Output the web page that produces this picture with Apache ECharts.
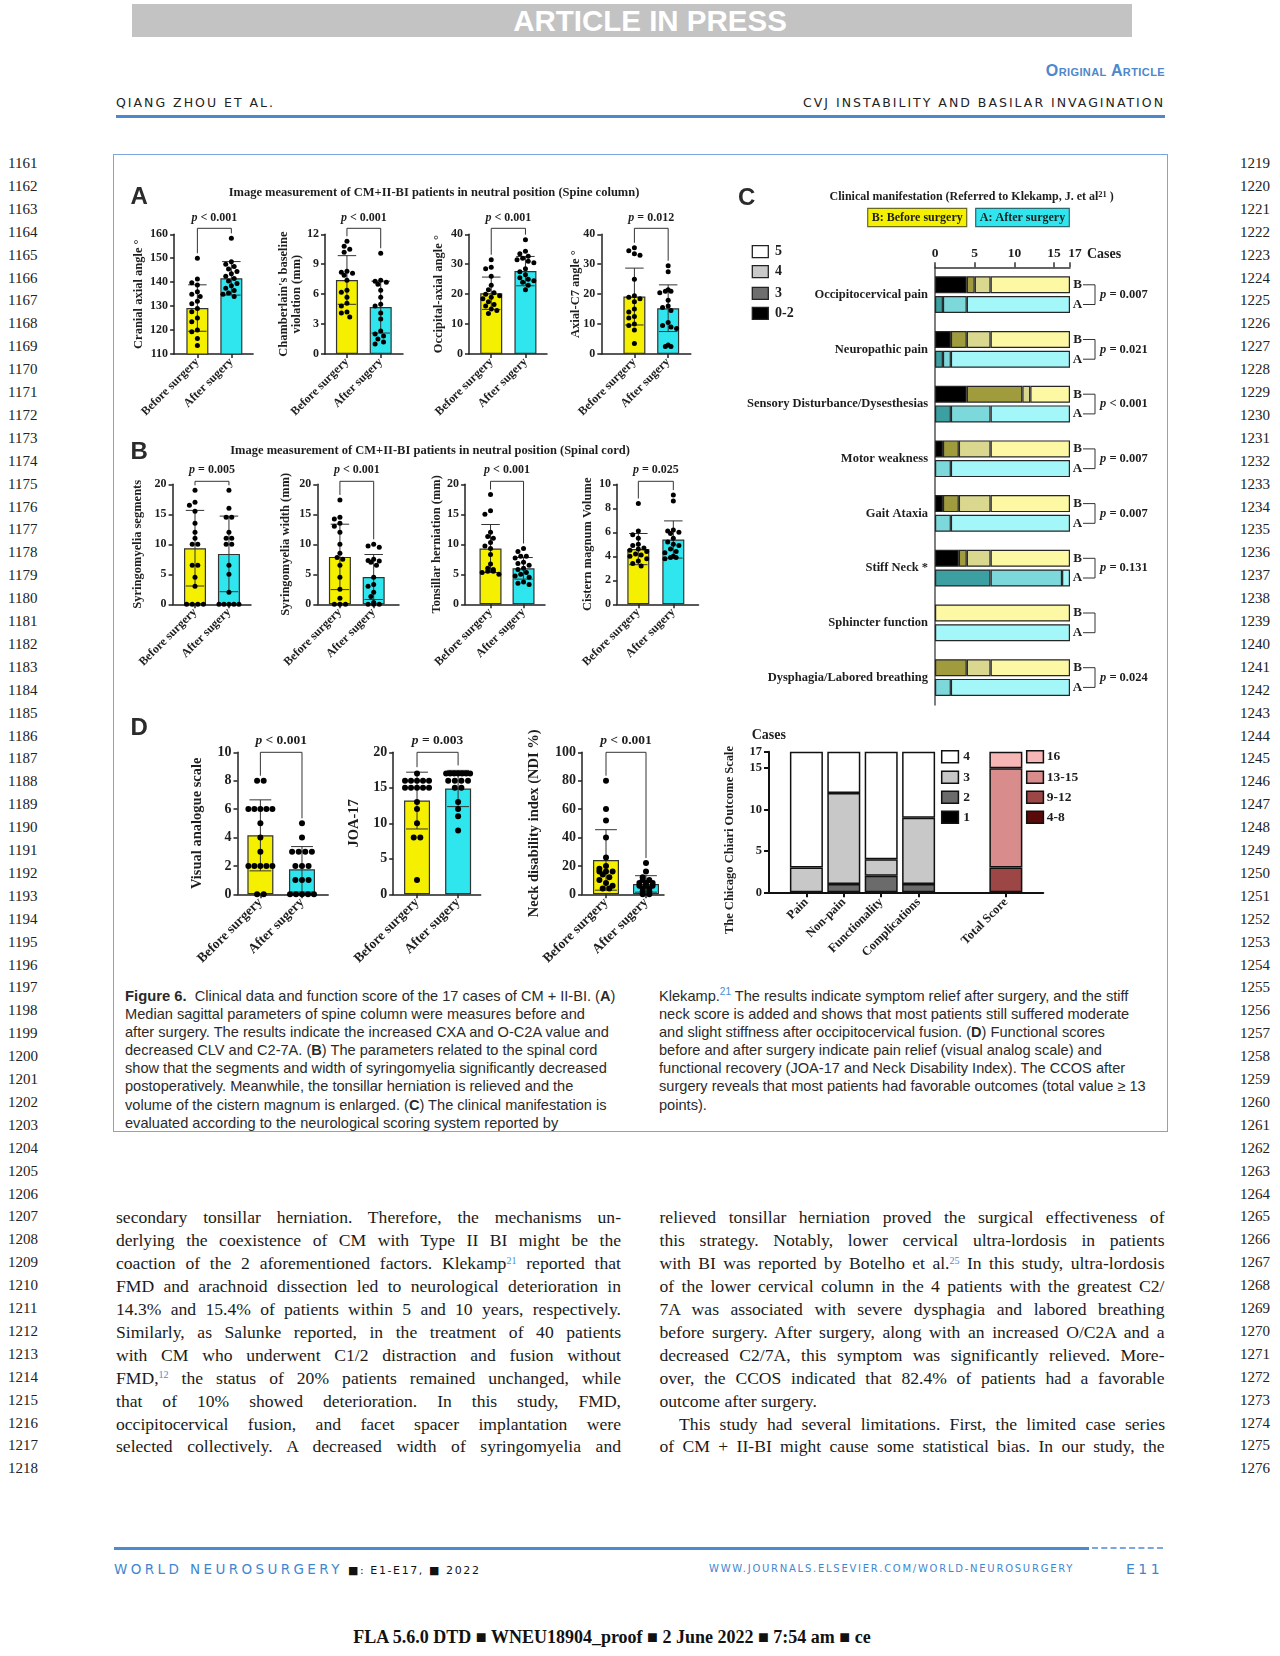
<!DOCTYPE html>
<html><head><meta charset="utf-8"><title>Figure 6 - CM + II-BI</title>
<script src="https://cdn.jsdelivr.net/npm/echarts@6/dist/echarts.min.js"></script>
<style>
html,body{margin:0;padding:0;background:#fff;}
body{position:relative;width:1280px;height:1656px;overflow:hidden;color:#1b1b1b;}
.a{position:absolute;white-space:nowrap;}
#pressbar{left:132px;top:4px;width:1000px;height:33px;background:#c3c3c3;color:#fff;font:bold 29.5px "Liberation Sans",Arial,sans-serif;line-height:33px;text-align:center;text-indent:36px;}
.hdr{font-family:"DejaVu Sans",sans-serif;font-size:12.5px;letter-spacing:2px;color:#222;line-height:16px;}
.ln{font-family:"Liberation Serif",serif;font-size:15px;line-height:20px;color:#222;}
.cap{font-family:"Liberation Sans",Arial,sans-serif;font-size:14.6px;line-height:18.2px;color:#2a2a2a;}
.body{font-family:"Liberation Serif",serif;font-size:17.6px;line-height:22.9px;color:#1a1a1a;width:505px;}
.just{text-align:justify;text-align-last:justify;}
sup{font-size:10px;vertical-align:0;position:relative;top:-0.55em;color:#3d8fd8;line-height:0;}
.cap sup{font-size:10px;}
</style></head>
<body>
<div id="pressbar" class="a">ARTICLE IN PRESS</div>
<div class="a" style="right:115px;top:62px;line-height:20px;font:bold 16px 'Liberation Sans',Arial,sans-serif;font-variant:small-caps;color:#4d87cc;letter-spacing:0.4px;">Original Article</div>
<div class="a hdr" style="left:116px;top:95px;">QIANG ZHOU ET AL.</div>
<div class="a hdr" style="right:115px;top:95px;">CVJ INSTABILITY AND BASILAR INVAGINATION</div>
<div class="a" style="left:116px;top:115px;width:1049px;height:3px;background:#4d87cc;"></div>

<div class="a" style="left:113px;top:154px;width:1053px;height:976px;border:1.5px solid #7aa6dc;"></div>
<div id="fig" class="a" style="left:0;top:0;width:1280px;height:980px;z-index:2;"></div>

<div class="a" style="left:114px;top:1547px;width:975px;height:2.5px;background:#4d8bd0;"></div>
<div class="a" style="left:1092px;top:1547px;width:71px;height:0;border-top:2.5px dashed #7aa8dc;"></div>
<div class="a" style="left:114px;top:1561px;line-height:16px;font-family:'DejaVu Sans',sans-serif;font-size:13.5px;letter-spacing:3.4px;color:#3f86cf;">WORLD NEUROSURGERY<span style="color:#111;font-size:11px;letter-spacing:1.6px;"> ■: E1-E17, ■ 2022</span></div>
<div class="a" style="left:709px;top:1562px;line-height:14px;font-family:'DejaVu Sans',sans-serif;font-size:10px;letter-spacing:1.75px;color:#3f86cf;">WWW.JOURNALS.ELSEVIER.COM/WORLD-NEUROSURGERY</div>
<div class="a" style="left:1126px;top:1561px;line-height:16px;font-family:'DejaVu Sans',sans-serif;font-size:14px;letter-spacing:3.5px;color:#3f86cf;">E11</div>
<div class="a" style="left:330px;width:564px;top:1627px;line-height:22px;text-align:center;font:bold 18px 'Liberation Serif',serif;color:#111;">FLA 5.6.0 DTD ■ WNEU18904_proof ■ 2 June 2022 ■ 7:54 am ■ ce</div>

<script>
// ---------------- DATA ----------------
const groupLabels = ['Before surgery', 'After sugery'];

// Panel A: spine column
const cxaBefore = [150, 141.3, 139.8, 138.8, 136, 135, 134, 132, 131, 129, 127.7, 125, 123.5, 120, 119.3, 116.5, 113.5];
const cxaAfter = [158.3, 148.5, 147.5, 146.5, 145.5, 144.5, 143.5, 142.5, 141.5, 140.5, 139.5, 138.5, 137.5, 136.5, 135.5, 135, 134];
const cxaMean = [129.2, 141.6], cxaSD = [9.7, 7.0];
const cxaTicks = [110, 120, 130, 140, 150, 160];

const clvBefore = [11.3, 10.8, 10.5, 10.2, 8.3, 8.2, 8.1, 7.9, 7.4, 6.4, 6.2, 5.7, 5.1, 4.8, 4.2, 4.1, 3.7];
const clvAfter = [10.1, 7.4, 7.3, 7.2, 7.0, 6.4, 5.7, 5.0, 4.8, 4.1, 3.5, 2.3, 2.0, 1.8, 1.5, 1.2, 1.0];
const clvMean = [7.42, 4.7], clvSD = [2.44, 2.6];
const clvTicks = [0, 3, 6, 9, 12];

const oc2aBefore = [31.5, 29, 28.5, 26, 23, 21.5, 20.5, 20, 19.5, 19, 18.5, 17.5, 16.5, 16, 15, 14.5, 13.5];
const oc2aAfter = [38.2, 34.3, 33.5, 32.7, 32, 31.5, 31, 30.5, 28.5, 27.5, 26.5, 25.5, 25, 24.5, 24, 23, 21.5];
const oc2aMean = [20.3, 27.7], oc2aSD = [5.4, 4.9];
const oc2aTicks = [0, 10, 20, 30, 40];

const c27Before = [35.5, 34.5, 33.5, 33, 25, 19.5, 19, 18.5, 17.5, 15, 14, 12.5, 12, 10, 9.5, 8, 3.5];
const c27After = [29.5, 27.5, 21.5, 21, 21, 20.5, 18, 16, 15.5, 14.5, 10.5, 9.5, 9, 8.5, 3, 2.5, 2.5];
const c27Mean = [19.2, 15.3], c27SD = [9.5, 7.8];
const c27Ticks = [0, 10, 20, 30, 40];

const pValuesA = ['< 0.001', '< 0.001', '< 0.001', '= 0.012'];

// Panel B: spinal cord
const segBefore = [19, 17, 16.5, 15.5, 13.5, 12, 11, 10, 10, 6.5, 6.5, 4.5, 3, 0, 0, 0, 0];
const segAfter = [19, 16, 14.5, 14.5, 12, 11, 11, 10, 10, 6.5, 5, 2, 0, 0, 0, 0, 0];
const segMean = [9.35, 8.4], segSD = [6.3, 6.3];
const segTicks = [0, 5, 10, 15, 20];

const widthBefore = [17.4, 14.5, 14.2, 13.5, 13, 12, 10, 8.5, 7.8, 7.5, 6.5, 4.5, 2.5, 1, 0, 0, 0];
const widthAfter = [10, 9.7, 9.5, 7.5, 7.3, 7.2, 7, 6.5, 4.5, 3.3, 3, 2, 1.3, 0.3, 0, 0, 0];
const widthMean = [7.9, 4.55], widthSD = [5.45, 3.75];
const widthTicks = [0, 5, 10, 15, 20];

const tonsilBefore = [18.3, 15.6, 15, 12, 11.3, 11, 10.3, 9.7, 9.3, 8.3, 6.7, 6, 5.8, 5.5, 5.5, 5.3, 5];
const tonsilAfter = [9.3, 8.8, 8, 8, 7.7, 7, 6.8, 6.5, 6, 5.8, 5.3, 5, 4.7, 4.5, 3.7, 3.5, 3.3];
const tonsilMean = [9.3, 6.0], tonsilSD = [4.0, 1.8];
const tonsilTicks = [0, 5, 10, 15, 20];

const cisternBefore = [8.4, 6.1, 5.8, 5.5, 5, 4.9, 4.7, 4.6, 4.5, 4.4, 4.2, 4.1, 4, 3.8, 3.6, 3.4, 3.2];
const cisternAfter = [9.1, 8.6, 6.2, 6.1, 6, 5.9, 5.5, 5.2, 5, 4.9, 4.6, 4.4, 4.3, 4, 3.9, 3.9, 3.8];
const cisternMean = [4.6, 5.4], cisternSD = [1.3, 1.55];
const cisternTicks = [0, 2, 4, 6, 8, 10];

const pValuesB = ['= 0.005', '< 0.001', '< 0.001', '= 0.025'];

// Panel C: clinical manifestation (cases per score)
const symptoms = ['Occipitocervical pain', 'Neuropathic pain', 'Sensory Disturbance/Dysesthesias', 'Motor weakness', 'Gait Ataxia', 'Stiff Neck *', 'Sphincter function', 'Dysphagia/Labored breathing'];
const beforeScore02 = [4, 2, 4, 1, 1, 3, 0, 0];
const beforeScore3 = [1, 2, 7, 2, 2, 1, 0, 4];
const beforeScore4 = [2, 3, 1, 4, 4, 3, 0, 3];
const beforeScore5 = [10, 10, 5, 10, 10, 10, 17, 10];
const afterScore02 = [0, 0, 0, 0, 0, 0, 0, 0];
const afterScore3 = [1, 1, 2, 0, 0, 7, 0, 0];
const afterScore4 = [3, 1, 5, 2, 2, 9, 0, 2];
const afterScore5 = [13, 15, 10, 15, 15, 1, 17, 15];
const symptomP = ['= 0.007', '= 0.021', '< 0.001', '= 0.007', '= 0.007', '= 0.131', '', '= 0.024'];
const scoreLevels = ['0-2', '3', '4', '5'];
const caseTicks = [0, 5, 10, 15, 17];

// Panel D: functional scores
const vasBefore = [8, 8, 6, 6, 6, 6, 6, 5, 4, 3, 2, 2, 2, 2, 2, 0, 0];
const vasAfter = [5, 4, 3, 3, 3, 3, 2, 2, 2, 1, 1, 1, 0, 0, 0, 0, 0];
const vasMean = [4.15, 1.76], vasSD = [2.5, 1.6];
const vasTicks = [0, 2, 4, 6, 8, 10];

const joaBefore = [17, 16, 16, 16, 16, 16, 15, 15, 15, 15, 15, 13, 12, 10, 8, 8, 2];
const joaAfter = [17, 17, 17, 17, 17, 17, 17, 16, 16, 16, 16, 15, 15, 13, 12, 11, 9];
const joaMean = [13.2, 14.9], joaSD = [4.0, 2.55];
const joaTicks = [0, 5, 10, 15, 20];

const ndiBefore = [80, 60, 52, 40, 26, 20, 18, 16, 16, 16, 14, 12, 10, 8, 6, 4, 4];
const ndiAfter = [22, 16, 12, 10, 10, 8, 8, 8, 6, 6, 6, 4, 4, 2, 2, 0, 0];
const ndiMean = [24.2, 7.3], ndiSD = [21.3, 5.8];
const ndiTicks = [0, 20, 40, 60, 80, 100];

const pValuesD = ['< 0.001', '= 0.003', '< 0.001'];

// CCOS
const ccosCats = ['Pain', 'Non-pain', 'Functionality', 'Complications'];
const ccosScore1 = [0, 0, 0, 0];
const ccosScore2 = [0, 1, 2, 1];
const ccosScore3 = [3, 11, 2, 8];
const ccosScore4 = [14, 5, 13, 8];
const ccosLevels = ['1', '2', '3', '4'];
const totalLabel = 'Total Score';
const totalLevels = ['4-8', '9-12', '13-15', '16'];
const totalCounts = [0, 3, 12, 2];
const ccosTicks = [0, 5, 10, 15, 17];

// ---------------- CHART ----------------
const SERIF = '"Liberation Serif","Times New Roman",serif';
const SANS = '"Liberation Sans",Arial,sans-serif';
const INK = '#1e1e1e';
const YELLOW = '#f5f000', CYAN = '#2fe6ef';
const grid = [], xAxis = [], yAxis = [], series = [], graphic = [];
const fnt = (s, w) => `${w || 'bold'} ${s}px ${SERIF}`;
function gText(x, y, str, size, align, extra) {
  graphic.push(Object.assign({type: 'text', x: x, y: y, silent: true, z: 10,
    style: {text: str, font: fnt(size), fill: INK, align: align || 'left', textAlign: align || 'left', verticalAlign: 'middle', textVerticalAlign: 'middle'}}, extra || {}));
}
function gRect(x, y, w, h, fill, stroke, lw) {
  graphic.push({type: 'rect', silent: true, z: 10, shape: {x: x, y: y, width: w, height: h}, style: {fill: fill, stroke: stroke || '#222', lineWidth: lw || 1.3}});
}
function pRich(size, p) {
  return {text: '{i|p}{n| ' + p + '}', rich: {
    i: {fontFamily: SERIF, fontWeight: 'bold', fontStyle: 'italic', fontSize: size, fill: INK},
    n: {fontFamily: SERIF, fontWeight: 'bold', fontSize: size, fill: INK}}};
}

function swarm(values, ppu, size, half) {
  const off = values.map(() => 0);
  const byVal = new Map();
  values.forEach((v, i) => { if (!byVal.has(v)) byVal.set(v, []); byVal.get(v).push(i); });
  const keys = [...byVal.keys()].sort((a, b) => b - a);
  const placed = [];
  const step = size + 0.6;
  keys.forEach(v => {
    const idx = byVal.get(v), y = v * ppu;
    if (idx.length > 1) {
      const sp = Math.min(step, 2 * half / (idx.length - 1));
      idx.forEach((i, k) => { off[i] = (k - (idx.length - 1) / 2) * sp; placed.push([off[i], y]); });
    } else {
      const cands = [0];
      for (let k = 1; k * step / 2 <= half; k++) { cands.push(-k * step / 2, k * step / 2); }
      let best = 0, bestD = -1;
      for (const c of cands) {
        let d = Infinity;
        placed.forEach(p => { d = Math.min(d, Math.hypot(p[0] - c, p[1] - y)); });
        if (d >= size) { best = c; bestD = d; break; }
        if (d > bestD) { bestD = d; best = c; }
      }
      off[idx[0]] = best; placed.push([best, y]);
    }
  });
  return off;
}

const axisLineStyle = {color: '#222', width: 1.5};
function addBarPanel(c) {
  const st = c.st, gi = grid.length;
  const yMin = c.ticks[0], yMax = c.ticks[c.ticks.length - 1], step = c.ticks[1] - c.ticks[0];
  grid.push({left: c.left, top: c.top, width: c.right - c.left, height: c.bottom - c.top});
  xAxis.push({gridIndex: gi, type: 'value', min: c.xMin, max: c.xMax, splitLine: {show: false},
    axisLine: {show: true, onZero: false, lineStyle: axisLineStyle},
    axisTick: {show: true, customValues: [0, 1], length: 4, lineStyle: axisLineStyle},
    axisLabel: {customValues: [0, 1], rotate: 45, margin: 6, formatter: v => groupLabels[Math.round(v)],
      fontFamily: SERIF, fontWeight: 'bold', fontSize: st.xLabel, color: INK}});
  const ya = {gridIndex: gi, type: 'value', min: yMin, max: yMax, interval: step, splitLine: {show: false},
    axisLine: {show: true, onZero: false, lineStyle: axisLineStyle},
    axisTick: {show: true, length: 4, lineStyle: axisLineStyle},
    axisLabel: {margin: 6, fontFamily: SERIF, fontWeight: 'bold', fontSize: st.tick, color: INK},
    name: c.name, nameLocation: 'middle', nameRotate: 90, nameGap: c.nameGap,
    nameTextStyle: {fontFamily: SERIF, fontWeight: 'bold', fontSize: st.name, color: INK, lineHeight: st.name + 0.5}};
  if (c.fixedName) ya.nameMoveOverlap = false;
  yAxis.push(ya);
  series.push({type: 'bar', xAxisIndex: gi, yAxisIndex: gi, barWidth: st.bar, clip: true, silent: true, z: 2,
    itemStyle: {borderColor: '#333', borderWidth: 1.2},
    data: [{value: [0, c.mean[0]], itemStyle: {color: YELLOW}}, {value: [1, c.mean[1]], itemStyle: {color: CYAN}}]});
  const cap = st.bar * 0.42;
  series.push({type: 'custom', xAxisIndex: gi, yAxisIndex: gi, silent: true, z: 3,
    data: [[0, c.mean[0], c.sd[0]], [1, c.mean[1], c.sd[1]]],
    renderItem: (params, api) => {
      const x = api.value(0), m = api.value(1), s = api.value(2);
      const t = api.coord([x, m + s]), b = api.coord([x, m - s]);
      const ls = {stroke: '#333', lineWidth: 1};
      return {type: 'group', children: [
        {type: 'line', shape: {x1: t[0], y1: t[1], x2: b[0], y2: b[1]}, style: ls},
        {type: 'line', shape: {x1: t[0] - cap, y1: t[1], x2: t[0] + cap, y2: t[1]}, style: ls},
        {type: 'line', shape: {x1: b[0] - cap, y1: b[1], x2: b[0] + cap, y2: b[1]}, style: ls}]};
    }});
  const ppu = (c.bottom - c.top) / (yMax - yMin);
  const groups = [c.before, c.after];
  groups.forEach((vals, g) => {
    const offs = swarm(vals, ppu, st.dot, st.bar / 2 - 1);
    series.push({type: 'scatter', xAxisIndex: gi, yAxisIndex: gi, symbolSize: st.dot, silent: true, z: 4,
      itemStyle: {color: '#000', opacity: 1},
      data: vals.map((v, i) => ({value: [g, v], symbolOffset: [offs[i], 0]}))});
  });
  series.push({type: 'custom', xAxisIndex: gi, yAxisIndex: gi, silent: true, z: 5, clip: false,
    data: [[0, yMax]],
    renderItem: (params, api) => {
      const l = api.coord([0, yMax]), r = api.coord([1, yMax]);
      const top = l[1] - st.bracketGap;
      const leg = g => Math.max(top + 3, Math.min(api.coord([g, Math.max(...groups[g])])[1], api.coord([g, c.mean[g] + c.sd[g]])[1]) - 5);
      const pr = pRich(st.p, c.p);
      return {type: 'group', children: [
        {type: 'polyline', shape: {points: [[l[0], leg(0)], [l[0], top], [r[0], top], [r[0], leg(1)]]}, style: {stroke: '#333', lineWidth: 1, fill: null}},
        {type: 'text', x: (l[0] + r[0]) / 2, y: top - st.pGap, style: {text: pr.text, rich: pr.rich, align: 'center', textAlign: 'center', verticalAlign: 'middle', textVerticalAlign: 'middle', fill: INK}}]};
    }});
}

const ST_A = {tick: 12, name: 12.5, xLabel: 12, p: 12, dot: 5, bar: 22, bracketGap: 6, pGap: 10};
const ST_B = Object.assign({}, ST_A, {bracketGap: 3, pGap: 11});
const ST_D = {tick: 14, name: 14.5, xLabel: 13.5, p: 13.5, dot: 6, bar: 26, bracketGap: 0, pGap: 12};

const barPanels = [
  {st: ST_A, name: 'Cranial axial angle °', before: cxaBefore, after: cxaAfter, mean: cxaMean, sd: cxaSD, p: pValuesA[0], ticks: cxaTicks, left: 174.1, right: 253.1, top: 234.3, bottom: 354, xMin: -0.685, xMax: 1.64, nameGap: 29},
  {st: ST_A, name: "Chamberlain's baseline\nviolation (mm)", before: clvBefore, after: clvAfter, mean: clvMean, sd: clvSD, p: pValuesA[1], ticks: clvTicks, left: 325, right: 403, top: 234.3, bottom: 354, xMin: -0.65, xMax: 1.66, nameGap: 19},
  {st: ST_A, name: 'Occipital-axial angle °', before: oc2aBefore, after: oc2aAfter, mean: oc2aMean, sd: oc2aSD, p: pValuesA[2], ticks: oc2aTicks, left: 469, right: 547, top: 234.3, bottom: 354, xMin: -0.65, xMax: 1.63, nameGap: 24},
  {st: ST_A, name: 'Axial-C7 angle °', before: c27Before, after: c27After, mean: c27Mean, sd: c27SD, p: pValuesA[3], ticks: c27Ticks, left: 601.3, right: 690.8, top: 234.3, bottom: 354, xMin: -0.98, xMax: 1.67, nameGap: 19, fixedName: true},
  {st: ST_B, name: 'Syringomyelia segments', before: segBefore, after: segAfter, mean: segMean, sd: segSD, p: pValuesB[0], ticks: segTicks, left: 172.6, right: 251, top: 484.3, bottom: 604.3, xMin: -0.66, xMax: 1.65, nameGap: 28},
  {st: ST_B, name: 'Syringomyelia width (mm)', before: widthBefore, after: widthAfter, mean: widthMean, sd: widthSD, p: pValuesB[1], ticks: widthTicks, left: 317.3, right: 399, top: 484.3, bottom: 604.3, xMin: -0.67, xMax: 1.75, nameGap: 25},
  {st: ST_B, name: 'Tonsillar herniation (mm)', before: tonsilBefore, after: tonsilAfter, mean: tonsilMean, sd: tonsilSD, p: pValuesB[2], ticks: tonsilTicks, left: 465.1, right: 545, top: 484.3, bottom: 604.3, xMin: -0.77, xMax: 1.65, nameGap: 20.5},
  {st: ST_B, name: 'Cistern magnum Volume', before: cisternBefore, after: cisternAfter, mean: cisternMean, sd: cisternSD, p: pValuesB[3], ticks: cisternTicks, left: 617, right: 698.5, top: 484.3, bottom: 604.3, xMin: -0.61, xMax: 1.72, nameGap: 23},
  {st: ST_D, name: 'Visual analogue scale', before: vasBefore, after: vasAfter, mean: vasMean, sd: vasSD, p: pValuesD[0], ticks: vasTicks, left: 237.5, right: 328.2, top: 752.3, bottom: 894.3, xMin: -0.55, xMax: 1.63, nameGap: 33},
  {st: ST_D, name: 'JOA-17', before: joaBefore, after: joaAfter, mean: joaMean, sd: joaSD, p: pValuesD[1], ticks: joaTicks, left: 393.2, right: 480.7, top: 752.3, bottom: 894.3, xMin: -0.58, xMax: 1.55, nameGap: 31},
  {st: ST_D, name: 'Neck disability index (NDI %)', before: ndiBefore, after: ndiAfter, mean: ndiMean, sd: ndiSD, p: pValuesD[2], ticks: ndiTicks, left: 582, right: 664, top: 752.3, bottom: 894.3, xMin: -0.6, xMax: 1.45, nameGap: 40, fixedName: true}
];
barPanels.forEach(addBarPanel);

// Panel letters and titles
[['A', 130.6, 197.5], ['B', 130.6, 452.5], ['C', 738, 198.5], ['D', 130.6, 728.5]].forEach(l => {
  graphic.push({type: 'text', x: l[1], y: l[2], silent: true, z: 10, style: {text: l[0], font: `bold 24px ${SANS}`, fill: '#2b2b2b', align: 'left', textAlign: 'left', verticalAlign: 'middle', textVerticalAlign: 'middle'}});
});
gText(434, 193, 'Image measurement of CM+II-BI patients in neutral position (Spine column)', 12.5, 'center');
gText(430, 451, 'Image measurement of CM+II-BI patients in neutral position (Spinal cord)', 12.5, 'center');

// ---- Panel C ----
const cg = grid.length;
const lastCase = caseTicks[caseTicks.length - 1];
grid.push({left: 935, top: 267.3, width: 135, height: 437.6});
xAxis.push({gridIndex: cg, type: 'value', position: 'top', min: caseTicks[0], max: lastCase, splitLine: {show: false},
  axisLine: {show: true, onZero: false, lineStyle: {color: '#333', width: 1.5}},
  axisTick: {show: true, customValues: caseTicks, length: 5, lineStyle: {color: '#333', width: 1.5}},
  axisLabel: {customValues: caseTicks, margin: 7, fontFamily: SERIF, fontWeight: 'bold', fontSize: 13.5, color: INK,
    formatter: v => v === lastCase ? '{r|' + v + '}' : String(v),
    rich: {r: {fontFamily: SERIF, fontWeight: 'bold', fontSize: 13.5, color: INK, padding: [0, 0, 0, 10]}}},
  name: 'Cases', nameLocation: 'end', nameGap: 17,
  nameTextStyle: {fontFamily: SERIF, fontWeight: 'bold', fontSize: 14, color: INK, align: 'left', verticalAlign: 'bottom', padding: [0, 0, 6, 0]}});
yAxis.push({gridIndex: cg, type: 'category', data: symptoms, inverse: true,
  axisLine: {show: true, onZero: false, lineStyle: {color: '#555', width: 1.5}}, axisTick: {show: false},
  axisLabel: {margin: 7, fontFamily: SERIF, fontWeight: 'bold', fontSize: 12.5, color: INK}});
const bColors = ['#000000', '#a09c3e', '#dad78f', '#fdf8a3'];
const aColors = ['#0d5d60', '#3ca0a3', '#7dd8db', '#a4f7f9'];
const beforeScores = [beforeScore02, beforeScore3, beforeScore4, beforeScore5];
const afterScores = [afterScore02, afterScore3, afterScore4, afterScore5];
beforeScores.forEach((arr, k) => series.push({type: 'bar', name: 'B ' + scoreLevels[k], xAxisIndex: cg, yAxisIndex: cg, stack: 'B', barWidth: 17, barGap: '16%', silent: true,
  itemStyle: {color: bColors[k], borderColor: '#262626', borderWidth: 1.2}, data: arr.map(v => v || '-')}));
afterScores.forEach((arr, k) => series.push({type: 'bar', name: 'A ' + scoreLevels[k], xAxisIndex: cg, yAxisIndex: cg, stack: 'A', barWidth: 17, barGap: '16%', silent: true,
  itemStyle: {color: aColors[k], borderColor: '#262626', borderWidth: 1.2}, data: arr.map(v => v || '-')}));
series.push({type: 'custom', xAxisIndex: cg, yAxisIndex: cg, silent: true, clip: false, z: 5,
  data: symptoms.map(s => [lastCase, s]),
  renderItem: (params, api) => {
    const c = api.coord([api.value(0), api.value(1)]);
    const yB = c[1] - 9.85, yA = c[1] + 9.85, x0 = c[0];
    const ts = t => ({text: t, font: fnt(13), fill: INK, align: 'center', textAlign: 'center', verticalAlign: 'middle', textVerticalAlign: 'middle'});
    const ch = [
      {type: 'text', x: x0 + 7.5, y: yB, style: ts('B')},
      {type: 'text', x: x0 + 7.5, y: yA, style: ts('A')},
      {type: 'polyline', shape: {points: [[x0 + 13, yB], [x0 + 25, yB], [x0 + 25, yA], [x0 + 13, yA]]}, style: {stroke: '#333', lineWidth: 1, fill: null}}];
    const p = symptomP[params.dataIndex];
    if (p) {
      const pr = pRich(12.5, p);
      ch.push({type: 'text', x: x0 + 30, y: c[1], style: {text: pr.text, rich: pr.rich, fill: INK, align: 'left', textAlign: 'left', verticalAlign: 'middle', textVerticalAlign: 'middle'}});
    }
    return {type: 'group', children: ch};
  }});
// C title and legends
graphic.push({type: 'text', x: 971.7, y: 197.3, silent: true, z: 10, style: {
  text: '{t|Clinical manifestation (Referred to Klekamp, J. et al}{s|21}{t| )}', align: 'center', textAlign: 'center', verticalAlign: 'middle', textVerticalAlign: 'middle',
  rich: {t: {fontFamily: SERIF, fontWeight: 'bold', fontSize: 12, fill: INK}, s: {fontFamily: SERIF, fontWeight: 'bold', fontSize: 8.5, fill: INK, verticalAlign: 'top', padding: [0, 0, 6, 0]}}}});
gRect(867.7, 208.3, 99, 18.4, YELLOW, '#6a6a20', 1.2);
gRect(975.7, 208.3, 93.6, 18.4, CYAN, '#2a6a70', 1.2);
gText(917.2, 217.5, 'B: Before surgery', 12, 'center');
gText(1022.5, 217.5, 'A: After surgery', 12, 'center');
const cLegendFill = ['#000000', '#6e6e6e', '#c9c9c9', '#ffffff'];
[3, 2, 1, 0].forEach((k, r) => {
  const cy = [251.7, 271.7, 293.3, 313.3][r];
  gRect(752.3, cy - 6, 16, 12, cLegendFill[k], '#222', 1.3);
  gText(775, cy, scoreLevels[k], 14, 'left');
});

// ---- CCOS (fine slots so the Total Score column sits apart from the four items) ----
const og = grid.length;
const ccosAll = ccosCats.concat([totalLabel]);
const ccosSlots = ccosAll.map((_, i) => 3 + 3 * i + (i >= ccosCats.length ? 4 : 0));
const slotCount = 23;
const ccosAxisCats = Array.from({length: slotCount}, (_, j) => {
  const i = ccosSlots.indexOf(j);
  return i >= 0 ? ccosAll[i] : ' '.repeat(j + 1);
});
grid.push({left: 769, top: 751.7, width: 22 * 12.467, height: 140.6});
xAxis.push({gridIndex: og, type: 'category', data: ccosAxisCats, boundaryGap: false,
  axisLine: {show: true, onZero: false, lineStyle: {color: '#111', width: 2}},
  axisTick: {show: true, interval: (i, v) => v.trim() !== '', length: 5, lineStyle: {color: '#111', width: 2}},
  axisLabel: {interval: 0, rotate: 45, margin: 8, formatter: v => v.trim(),
    fontFamily: SERIF, fontWeight: 'bold', fontSize: 12.5, color: INK}});
yAxis.push({gridIndex: og, type: 'value', min: ccosTicks[0], max: ccosTicks[ccosTicks.length - 1], splitLine: {show: false},
  axisLine: {show: true, onZero: false, lineStyle: {color: '#111', width: 2}},
  axisTick: {show: true, customValues: ccosTicks, length: 5, lineStyle: {color: '#111', width: 2}},
  axisLabel: {customValues: ccosTicks, margin: 7, fontFamily: SERIF, fontWeight: 'bold', fontSize: 12.5, color: INK},
  name: 'The Chicago Chiari Outcome Scale', nameLocation: 'middle', nameRotate: 90, nameGap: 33,
  nameTextStyle: {fontFamily: SERIF, fontWeight: 'bold', fontSize: 12.5, color: INK, padding: [0, 36, 0, 0]}});
const grayFill = ['#000000', '#6b6b6b', '#c8c8c8', '#ffffff'];
const redFill = ['#5a0a0a', '#9c4646', '#d88c8c', '#f7b6b6'];
const ccosScores = [ccosScore1, ccosScore2, ccosScore3, ccosScore4];
ccosScores.forEach((arr, k) => series.push({type: 'bar', name: 'CCOS ' + ccosLevels[k], xAxisIndex: og, yAxisIndex: og, stack: 'ccos', barWidth: 33, silent: true,
  itemStyle: {color: grayFill[k], borderColor: '#111', borderWidth: 1.5},
  data: ccosAxisCats.map((_, j) => { const i = ccosSlots.indexOf(j); return i >= 0 && i < arr.length && arr[i] ? arr[i] : '-'; })}));
totalCounts.forEach((v, k) => series.push({type: 'bar', name: 'Total ' + totalLevels[k], xAxisIndex: og, yAxisIndex: og, stack: 'ccos', barWidth: 33, silent: true,
  itemStyle: {color: redFill[k], borderColor: '#111', borderWidth: 1.5},
  data: ccosAxisCats.map((_, j) => (ccosSlots.indexOf(j) === ccosCats.length && v) ? v : '-')}));
gText(751.7, 735, 'Cases', 14, 'left');
[3, 2, 1, 0].forEach((k, r) => {
  const cy = [756.7, 777.3, 797.3, 817.3][r];
  gRect(941.7, cy - 6, 16.7, 12, grayFill[k], '#111', 1.5);
  gText(963.3, cy, ccosLevels[k], 13.5, 'left');
  gRect(1026.7, cy - 6, 16.7, 12, redFill[k], '#111', 1.5);
  gText(1046.7, cy, totalLevels[k], 13.5, 'left');
});

const chart = echarts.init(document.getElementById('fig'), null, {renderer: 'canvas'});
chart.setOption({animation: false, backgroundColor: 'transparent', grid: grid, xAxis: xAxis, yAxis: yAxis, series: series, graphic: graphic});

// ---------------- PAGE TEXT ----------------
function addDiv(cls, html, left, top, extraStyle) {
  const d = document.createElement('div');
  d.className = 'a ' + cls;
  d.style.left = left + 'px'; d.style.top = top + 'px';
  if (extraStyle) d.setAttribute('style', d.getAttribute('style') + ';' + extraStyle);
  d.innerHTML = html;
  document.body.appendChild(d);
}
const lineY = i => 163 + i * 22.9;
for (let i = 0; i < 58; i++) {
  addDiv('ln', String(1161 + i), 8, lineY(i) - 10);
  addDiv('ln', String(1219 + i), 1240, lineY(i) - 10);
}
const capLeft = [
  '<b style="font-size:14.8px">Figure 6.</b>&nbsp; Clinical data and function score of the 17 cases of CM + II-BI. (<b>A</b>)',
  'Median sagittal parameters of spine column were measures before and',
  'after surgery. The results indicate the increased CXA and O-C2A value and',
  'decreased CLV and C2-7A. (<b>B</b>) The parameters related to the spinal cord',
  'show that the segments and width of syringomyelia significantly decreased',
  'postoperatively. Meanwhile, the tonsillar herniation is relieved and the',
  'volume of the cistern magnum is enlarged. (<b>C</b>) The clinical manifestation is',
  'evaluated according to the neurological scoring system reported by'];
const capRight = [
  'Klekamp.<sup>21</sup> The results indicate symptom relief after surgery, and the stiff',
  'neck score is added and shows that most patients still suffered moderate',
  'and slight stiffness after occipitocervical fusion. (<b>D</b>) Functional scores',
  'before and after surgery indicate pain relief (visual analog scale) and',
  'functional recovery (JOA-17 and Neck Disability Index). The CCOS after',
  'surgery reveals that most patients had favorable outcomes (total value &ge; 13',
  'points).'];
capLeft.forEach((t, k) => addDiv('cap', t, 125, 996 + k * 18.1 - 9.1));
capRight.forEach((t, k) => addDiv('cap', t, 659, 996 + k * 18.1 - 9.1));

const bodyLeft = [
  'secondary tonsillar herniation. Therefore, the mechanisms un-',
  'derlying the coexistence of CM with Type II BI might be the',
  'coaction of the 2 aforementioned factors. Klekamp<sup>21</sup> reported that',
  'FMD and arachnoid dissection led to neurological deterioration in',
  '14.3% and 15.4% of patients within 5 and 10 years, respectively.',
  'Similarly, as Salunke reported, in the treatment of 40 patients',
  'with CM who underwent C1/2 distraction and fusion without',
  'FMD,<sup>12</sup> the status of 20% patients remained unchanged, while',
  'that of 10% showed deterioration. In this study, FMD,',
  'occipitocervical fusion, and facet spacer implantation were',
  'selected collectively. A decreased width of syringomyelia and'];
const bodyRight = [
  'relieved tonsillar herniation proved the surgical effectiveness of',
  'this strategy. Notably, lower cervical ultra-lordosis in patients',
  'with BI was reported by Botelho et al.<sup>25</sup> In this study, ultra-lordosis',
  'of the lower cervical column in the 4 patients with the greatest C2/',
  '7A was associated with severe dysphagia and labored breathing',
  'before surgery. After surgery, along with an increased O/C2A and a',
  'decreased C2/7A, this symptom was significantly relieved. More-',
  'over, the CCOS indicated that 82.4% of patients had a favorable',
  'outcome after surgery.',
  'This study had several limitations. First, the limited case series',
  'of CM + II-BI might cause some statistical bias. In our study, the'];
bodyLeft.forEach((t, k) => addDiv('body just', t, 116, lineY(46 + k) + 1.5 - 11.45));
bodyRight.forEach((t, k) => {
  if (k === 8) addDiv('body', t, 659.5, lineY(46 + k) + 1.5 - 11.45);
  else if (k === 9) addDiv('body just', t, 679, lineY(46 + k) + 1.5 - 11.45, 'width:486px');
  else addDiv('body just', t, 659.5, lineY(46 + k) + 1.5 - 11.45);
});
</script>
</body></html>
